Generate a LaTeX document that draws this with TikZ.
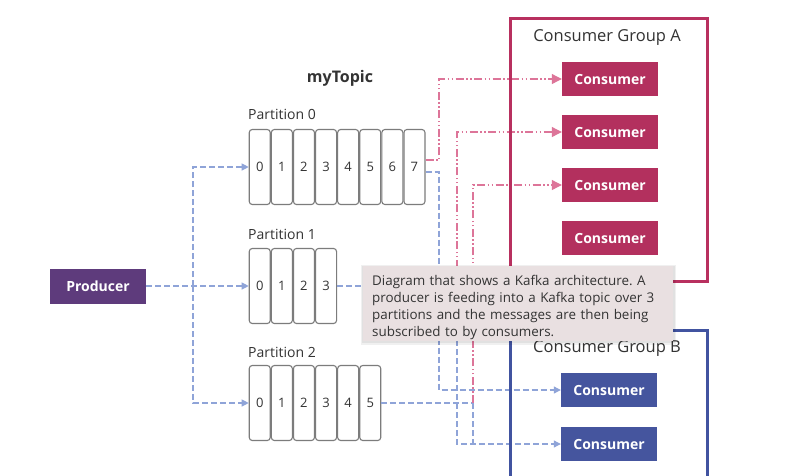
\documentclass[tikz,border=0pt]{standalone}
\usepackage{fontspec}
\setmainfont{Open Sans}
\usetikzlibrary{arrows.meta,calc}
\definecolor{grpA}{HTML}{B8305F}
\definecolor{grpB}{HTML}{4153A0}
\definecolor{consA}{HTML}{B3305E}
\definecolor{consB}{HTML}{45559E}
\definecolor{prodc}{HTML}{5E3B7C}
\definecolor{lnB}{HTML}{8FA4D8}
\definecolor{lnR}{HTML}{DD7599}
\definecolor{cellc}{HTML}{7C7C7C}
\definecolor{txt}{HTML}{333333}
\definecolor{tipbg}{HTML}{E9E0E1}
\tikzset{
 cell/.style={draw=cellc, line width=1.1pt, rounded corners=3pt, minimum width=21pt, minimum height=75pt, inner sep=0pt, font=\fontsize{13}{13}\selectfont, text=txt, fill=white},
 consumer/.style={minimum width=96pt, minimum height=34pt, inner sep=0pt, text=white, font=\bfseries\fontsize{14}{14}\selectfont},
 conA/.style={consumer, fill=consA},
 conB/.style={consumer, fill=consB},
 plabel/.style={anchor=west, inner sep=0pt, text=txt, font=\fontsize{14}{14}\selectfont},
 glabel/.style={inner sep=0pt, text=txt, font=\fontsize{16.5}{16.5}\selectfont},
 bline/.style={draw=lnB, line width=1.1pt, dash pattern=on 6pt off 3pt},
 rline/.style={draw=lnR, line width=1.1pt, dash pattern=on 8pt off 2.5pt on 1.5pt off 2.5pt on 1.5pt off 2.5pt},
 btip/.style={-{Triangle[width=7pt,length=7pt]}},
 rtip/.style={-{Triangle[width=10pt,length=10pt]}},
 tipbox/.style={anchor=north west, fill=tipbg, minimum width=310pt, minimum height=75pt, inner sep=0pt},
 tiptext/.style={text width=292pt, align=left, inner sep=0pt, text=txt, font=\frenchspacing\fontsize{13.4}{17}\selectfont}
}
\begin{document}
\begin{tikzpicture}[x=1pt,y=-1pt]
\useasboundingbox (0,0) rectangle (795,475);
\clip (0,0) rectangle (795,475);
\fill[white] (0,0) rectangle (795,475);

% title
\node[inner sep=0pt, text=txt, font=\bfseries\fontsize{16}{16}\selectfont] (topic) at (340,78) {myTopic};

% partitions
\node[plabel] (pl0) at (248,114) {Partition 0};
\node[plabel] (pl1) at (248,234) {Partition 1};
\node[plabel] (pl2) at (248,352) {Partition 2};
\foreach \i in {0,...,7} \node[cell] (p0c\i) at (259.75+22.1*\i,167) {\i};
\foreach \i in {0,...,3} \node[cell] (p1c\i) at (259.75+22.1*\i,286) {\i};
\foreach \i in {0,...,5} \node[cell] (p2c\i) at (259.75+22.1*\i,403) {\i};

% producer
\node[minimum width=96pt, minimum height=35pt, inner sep=0pt, fill=prodc, text=white, font=\bfseries\fontsize{14}{14}\selectfont] (prod) at (98,286) {Producer};

% consumers
\node[conA] (ca1) at (610,79) {Consumer};
\node[conA] (ca2) at (610,132) {Consumer};
\node[conA] (ca3) at (610,185) {Consumer};
\node[conA] (ca4) at (610,238) {Consumer};
\node[conB] (cb1) at (609,390) {Consumer};
\node[conB] (cb2) at (609,444) {Consumer};

% producer -> partitions
\coordinate (br) at (193,286);
\draw[bline,btip] (prod.east) -- (p1c0.west);
\draw[bline,btip] (br) |- (p0c0.west);
\draw[bline,btip] (br) |- (p2c0.west);

% partition 0
\draw[rline,rtip] ($(p0c7.east)+(0,-7)$) -- (439,160) |- (ca1.west);
\draw[bline,btip] ($(p0c7.east)+(0,5)$) -- (439,172) |- (cb1.west);
% partition 1
\draw[bline] (p1c3.east) -- (457,286) coordinate (j1);
\draw[rline,rtip] (j1) |- (ca2.west);
\draw[bline,btip] (j1) |- (cb2.west);
% partition 2
\draw[bline] (p2c5.east) -- (473,403) coordinate (j2);
\draw[rline,rtip] (j2) |- (ca3.west);
\draw[bline] (j2) -- (j2 |- cb2.west);

% groups
\draw[grpA, line width=3pt] (510,18) rectangle (707,281);
\node[glabel] (ga) at (607,38) {Consumer Group A};
\draw[grpB, line width=3pt] (510,490) -- (510,330) -- (707,330) -- (707,490);
\node[glabel] (gb) at (607,348) {Consumer Group B};

% tooltip
\fill[black, opacity=0.06] (361,265) rectangle (676,345);
\fill[black, opacity=0.06] (362,266) rectangle (675,343);
\node[tipbox] (tip) at (363,266) {};
\node[tiptext] (tipt) at ($(tip.center)+(0,4)$) {Diagram that shows a Kafka architecture. A\\producer is feeding into a Kafka topic over 3\\partitions and the messages are then being\\subscribed to by consumers.};
\end{tikzpicture}
\end{document}
